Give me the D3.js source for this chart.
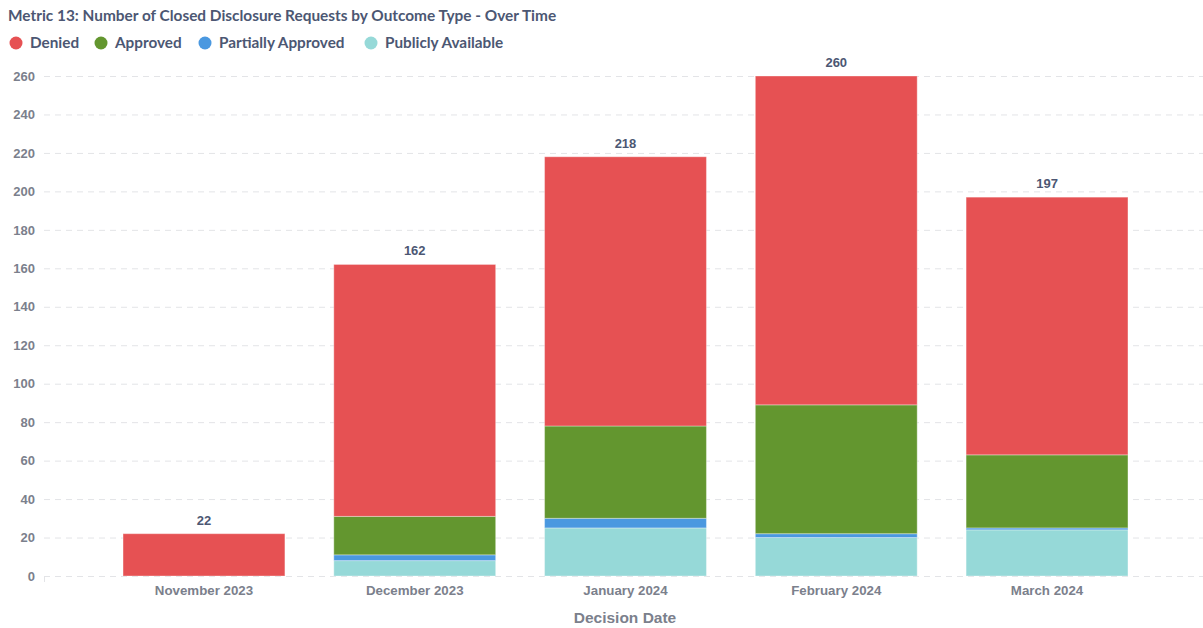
<!DOCTYPE html>
<html>
<head>
<meta charset="utf-8">
<script src="https://cdn.jsdelivr.net/npm/d3@7"></script>
<style>
  html, body { margin: 0; padding: 0; background: #fff; }
  svg { display: block; }
</style>
</head>
<body>
<div id="chart"></div>
<script>
(function(d3) {
  'use strict';

  // data
  var months = ['November 2023', 'December 2023', 'January 2024', 'February 2024', 'March 2024'];
  var outcomes = ['Publicly Available', 'Partially Approved', 'Approved', 'Denied'];
  var legendOrder = ['Denied', 'Approved', 'Partially Approved', 'Publicly Available'];
  var publiclyAvailable = [0, 8, 25, 20, 24];
  var partiallyApproved = [0, 3, 5, 2, 1];
  var approved = [0, 20, 48, 67, 38];
  var denied = [22, 131, 140, 171, 134];
  var yTicks = [0, 20, 40, 60, 80, 100, 120, 140, 160, 180, 200, 220, 240, 260];

  var width = 1203;
  var height = 628;
  var textDark = '#4c5773';
  var textGray = '#7b808c';

  var color = d3.scaleOrdinal()
    .domain(['Denied', 'Approved', 'Partially Approved', 'Publicly Available'])
    .range(['#e65153', '#63962f', '#4a98e0', '#96d9d8']);

  var rows = months.map(function(m, i) {
    return {
      month: m,
      'Publicly Available': publiclyAvailable[i],
      'Partially Approved': partiallyApproved[i],
      'Approved': approved[i],
      'Denied': denied[i]
    };
  });

  var stack = d3.stack().keys(outcomes);
  var series = stack(rows);

  var svg = d3.select('#chart').append('svg')
    .attr('width', width)
    .attr('height', height);

  var x = d3.scaleBand()
    .domain(months)
    .range([44, 1207])
    .paddingInner(0.232)
    .paddingOuter(0.375);

  var y = d3.scaleLinear()
    .domain([0, 260])
    .range([576, 76]);

  // title
  svg.append('text')
    .attr('x', 8)
    .attr('y', 21)
    .style('font-family', 'Lato, sans-serif')
    .style('font-weight', 700)
    .style('font-size', '15.4px')
    .style('fill', textDark)
    .text('Metric 13: Number of Closed Disclosure Requests by Outcome Type - Over Time');

  // legend
  var legendX = [16, 101, 205, 371];
  var legend = svg.append('g').selectAll('g')
    .data(legendOrder)
    .enter()
    .append('g')
    .attr('transform', function(d, i) { return 'translate(' + legendX[i] + ',43)'; });

  legend.append('circle')
    .attr('r', 6.5)
    .attr('fill', function(d) { return color(d); });

  legend.append('text')
    .attr('x', 14)
    .attr('dy', '0.35em')
    .style('font-family', 'Lato, sans-serif')
    .style('font-weight', 700)
    .style('font-size', '15.3px')
    .style('fill', textDark)
    .text(function(d) { return d; });

  // grid
  var grid = svg.append('g');
  grid.selectAll('line')
    .data(yTicks)
    .enter()
    .append('line')
    .attr('x1', 44)
    .attr('x2', width)
    .attr('y1', function(d) { return y(d) + 0.5; })
    .attr('y2', function(d) { return y(d) + 0.5; })
    .attr('stroke', '#e3e4e7')
    .attr('stroke-dasharray', '6,5');

  svg.append('line')
    .attr('x1', 44.5).attr('x2', 44.5)
    .attr('y1', 576).attr('y2', 582)
    .attr('stroke', '#e3e4e7');

  // y axis
  var yAxis = svg.append('g')
    .attr('transform', 'translate(35,0)')
    .call(d3.axisLeft(y).tickValues(yTicks).tickSize(0).tickPadding(0));
  yAxis.select('.domain').remove();
  yAxis.selectAll('text')
    .style('font-family', '"Liberation Sans", Arial, sans-serif')
    .style('font-weight', 700)
    .style('font-size', '13px')
    .style('fill', textGray);

  // bars
  svg.append('g').selectAll('g')
    .data(series)
    .enter()
    .append('g')
    .attr('fill', function(d) { return color(d.key); })
    .selectAll('rect')
    .data(function(d) { return d; })
    .enter()
    .append('rect')
    .attr('x', function(d) { return x(d.data.month); })
    .attr('width', x.bandwidth())
    .attr('y', function(d) { return y(d[1]); })
    .attr('height', function(d) { return y(d[0]) - y(d[1]); })
    .attr('stroke', 'rgba(255,255,255,0.35)')
    .attr('stroke-width', 1);

  // totals
  svg.append('g').selectAll('text')
    .data(rows)
    .enter()
    .append('text')
    .attr('x', function(d) { return x(d.month) + x.bandwidth() / 2; })
    .attr('y', function(d) {
      return y(d3.sum(outcomes, function(k) { return d[k]; })) - 9;
    })
    .attr('text-anchor', 'middle')
    .style('font-family', '"Liberation Sans", Arial, sans-serif')
    .style('font-weight', 700)
    .style('font-size', '13px')
    .style('fill', textDark)
    .text(function(d) { return d3.sum(outcomes, function(k) { return d[k]; }); });

  // x axis
  var xAxis = svg.append('g')
    .attr('transform', 'translate(0,586)')
    .call(d3.axisBottom(x).tickSize(0).tickPadding(0));
  xAxis.select('.domain').remove();
  xAxis.selectAll('text')
    .attr('dy', '0.71em')
    .style('font-family', '"Liberation Sans", Arial, sans-serif')
    .style('font-weight', 700)
    .style('font-size', '13.3px')
    .style('fill', textGray);

  svg.append('text')
    .attr('x', 625)
    .attr('y', 623)
    .attr('text-anchor', 'middle')
    .style('font-family', '"Liberation Sans", Arial, sans-serif')
    .style('font-weight', 700)
    .style('font-size', '15.5px')
    .style('fill', textGray)
    .text('Decision Date');

})(window.d3);
</script>
</body>
</html>
